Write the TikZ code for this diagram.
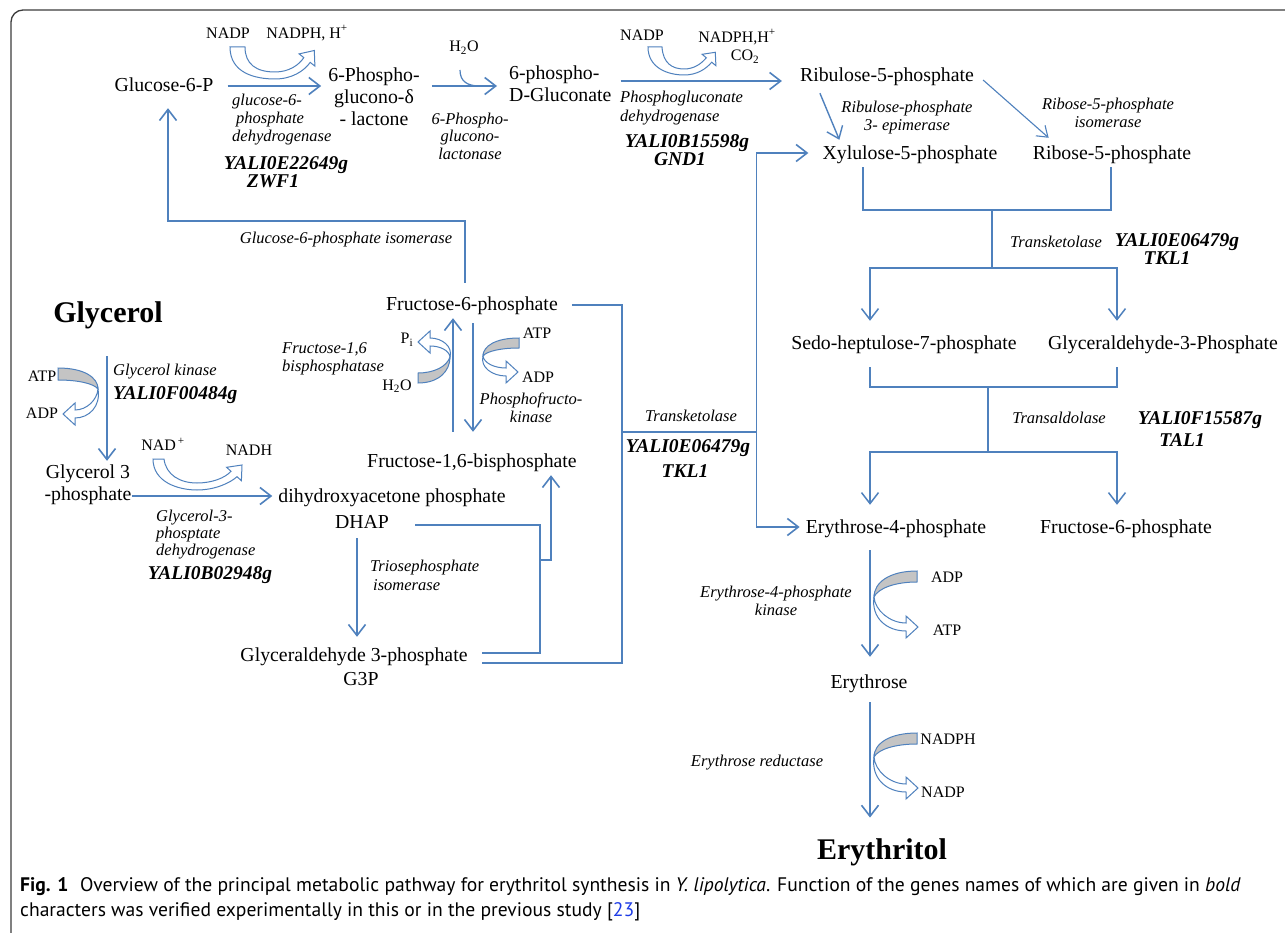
\documentclass[tikz,border=0pt]{standalone}
\usepackage{fontspec}
\setmainfont{Liberation Serif}
\newfontfamily\zzcapfam{PT Sans}
\usetikzlibrary{arrows.meta,calc}
\definecolor{lineblue}{RGB}{79,129,189}
\definecolor{bandgray}{RGB}{196,196,196}
\definecolor{framecol}{RGB}{60,60,60}
\definecolor{linkblue}{RGB}{30,60,230}
\newcommand\zzmain{\fontsize{19.8}{22}\selectfont}
\newcommand\zzenz{\fontsize{16.5}{18}\selectfont\itshape}
\newcommand\zzgene{\fontsize{19.5}{18}\selectfont\bfseries\itshape}
\newcommand\zzcof{\fontsize{16}{18}\selectfont}
\newcommand\zzbig{\fontsize{30}{32}\selectfont\bfseries}
\newcommand\zzcap{\fontsize{19.6}{24}\selectfont\zzcapfam}
% cofactor shape: #1 scope options, #2 gx, #3 g1 (outer), #4 g2 (inner), #5 tip x, #6 tip y
\newcommand\cofshape[6]{%
  \begin{scope}[#1]
    \filldraw[grayband] (0,0) .. controls (0,{#3*0.55}) and ({#2*0.35},#3) .. (#2,#3)
      -- (#2,#4) .. controls ({#2*0.5},#4) and ({#2*0.1},{#4*0.6}) .. (0,0) -- cycle;
    \pgfmathsetmacro\zzbx{#5+12}
    \filldraw[hollow] (0,0) .. controls (3,{#6*0.7}) and ({\zzbx*0.4},{#6+4}) .. (\zzbx,{#6+4})
      -- (\zzbx,{#6+11}) -- (#5,#6) -- (\zzbx,{#6-11}) -- (\zzbx,{#6-4})
      .. controls ({\zzbx*0.5},{#6-4}) and (-1,{#6*0.45}) .. (0,0) -- cycle;
  \end{scope}}
\begin{document}
\begin{tikzpicture}[x=1pt,y=-1pt,
  >={Straight Barb[length=11pt,width=17pt]},
  lbl/.style={inner sep=0pt, font=\zzmain, text height=13.5pt, text depth=4.5pt},
  lblm/.style={inner sep=0pt, font=\zzmain},
  big/.style={inner sep=0pt, font=\zzbig, text height=20pt, text depth=6.5pt},
  enz/.style={inner sep=0pt, font=\zzenz},
  gene/.style={inner sep=0pt, font=\zzgene, align=center},
  cof/.style={inner sep=0pt, font=\zzcof},
  arr/.style={draw=lineblue, line width=1.6pt, ->},
  barr/.style={draw=lineblue, line width=1.6pt, <->},
  tharr/.style={draw=lineblue, line width=1.1pt, -{Straight Barb[length=10pt,width=14pt]}},
  ln/.style={draw=lineblue, line width=1.5pt, line join=miter},
  grayband/.style={fill=bandgray, draw=lineblue, line width=1pt},
  hollow/.style={fill=white, draw=lineblue, line width=1pt, line join=miter},
]
\useasboundingbox (0,0) rectangle (1285,933);
\clip (0,0) rectangle (1285,933);
\fill[white] (0,0) rectangle (1285,933);
% frame
\draw[framecol, line width=1.3pt, rounded corners=12pt] (11,960) -- (11,10) -- (1310,10);

% ---------- main metabolites ----------
\node[lbl] (g6p) at (164,87) {Glucose-6-P};
\node[lblm, align=center] (pgl) at (374,97) {6-Phospho-\\glucono-δ\\- lactone};
\node[lblm, align=left, anchor=west] (pg) at (509,84) {6-phospho-\\D-Gluconate};
\node[lbl] (ru5p) at (887,77) {Ribulose-5-phosphate};
\node[lbl] (xu5p) at (910,155) {Xylulose-5-phosphate};
\node[lbl] (r5p) at (1112,155) {Ribose-5-phosphate};
\node[lbl] (s7p) at (904,345) {Sedo-heptulose-7-phosphate};
\node[lbl] (ga3p) at (1163,345) {Glyceraldehyde-3-Phosphate};
\node[lbl] (e4p) at (896,529) {Erythrose-4-phosphate};
\node[lbl] (f6p2) at (1126,529) {Fructose-6-phosphate};
\node[lbl] (ery) at (869,684) {Erythrose};
\node[big] (erol) at (882,853) {Erythritol};
\node[big] (gly) at (108,316) {Glycerol};
\node[lblm, align=center] (g3p1) at (88,485) {Glycerol 3\\-phosphate};
\node[lbl] (dhap) at (392,498) {dihydroxyacetone phosphate};
\node[lbl] (dhapab) at (362,524) {DHAP};
\node[lbl] (gap) at (354,657) {Glyceraldehyde 3-phosphate};
\node[lbl] (g3pab) at (361,681) {G3P};
\node[lbl] (f6p1) at (472,306) {Fructose-6-phosphate};
\node[lbl] (f16bp) at (472,463) {Fructose-1,6-bisphosphate};

% ---------- enzymes, genes, cofactors ----------
\node[enz, align=left, anchor=west] (e1) at (232,120) {glucose-6-\\\hspace*{4pt}phosphate\\dehydrogenase};
\node[gene] (gn1) at (286,172) {YALI0E22649g\\\hspace*{-26pt}ZWF1};
\node[cof] (nadp1) at (228,33) {NADP};
\node[cof] (nadph1) at (307,33) {NADPH, H\textsuperscript{+}};
\node[cof] (h2oA) at (464,48) {H\textsubscript{2}O};
\node[enz, align=center, font={\fontsize{16.5}{17.5}\selectfont\itshape}] (e2) at (470,136) {6-Phospho-\\glucono-\\lactonase};
\node[cof] (nadp2) at (642,35) {NADP};
\node[cof] (nadph2) at (737,37) {NADPH,H\textsuperscript{+}};
\node[cof] (co2) at (745,57) {CO\textsubscript{2}};
\node[enz, align=left, anchor=west, font={\fontsize{16.5}{19}\selectfont\itshape}] (e3) at (620,108) {Phosphogluconate\\dehydrogenase};
\node[gene] (gn3) at (687,150) {YALI0B15598g\\\hspace*{-14pt}GND1};
\node[enz, align=center] (e4) at (907,118) {Ribulose-phosphate\\3- epimerase};
\node[enz, align=center] (e5) at (1108,113) {Ribose-5-phosphate\\isomerase};
\node[enz] (e6) at (1056,242) {Transketolase};
\node[gene] (gn6) at (1177,249) {YALI0E06479g\\\hspace*{-20pt}TKL1};
\node[enz] (e7) at (1059,418) {Transaldolase};
\node[gene, font={\fontsize{19.5}{22}\selectfont\bfseries\itshape}] (gn7) at (1200,429) {YALI0F15587g\\\hspace*{-36pt}TAL1};
\node[enz, align=center] (e8) at (776,601) {Erythrose-4-phosphate\\kinase};
\node[cof] (adp3) at (947,577) {ADP};
\node[cof] (atp3) at (947,630) {ATP};
\node[enz] (e9) at (757,763) {Erythrose reductase};
\node[cof] (nadph4) at (948,739) {NADPH};
\node[cof] (nadp4) at (943,792) {NADP};
\node[enz, anchor=west] (e10) at (113,372) {Glycerol kinase};
\node[gene, anchor=west] (gn10) at (113,395) {YALI0F00484g};
\node[cof] (atp1) at (42,376) {ATP};
\node[cof] (adp1) at (42,413) {ADP};
\node[cof] (nad) at (163,444) {NAD\textsuperscript{\,+}};
\node[cof] (nadh) at (249,450) {NADH};
\node[enz, align=left, anchor=west, font={\fontsize{16.5}{17}\selectfont\itshape}] (e11) at (156,535) {Glycerol-3-\\phosptate\\dehydrogenase};
\node[gene] (gn11) at (210,575) {YALI0B02948g};
\node[enz, align=left, anchor=west, font={\fontsize{16.5}{19}\selectfont\itshape}] (e12) at (370,575) {Triosephosphate\\\hspace*{3pt}isomerase};
\node[enz, align=left, anchor=west] (e13) at (282,359) {Fructose-1,6\\bisphosphatase};
\node[enz, align=center] (e14) at (531,408) {Phosphofructo-\\kinase};
\node[cof] (pi) at (407,340) {P\textsubscript{i}};
\node[cof] (h2oB) at (397,386) {H\textsubscript{2}O};
\node[cof] (atp2) at (537,333) {ATP};
\node[cof] (adp2) at (538,377) {ADP};
\node[enz] (e15) at (346,240) {Glucose-6-phosphate isomerase};
\node[enz] (e16) at (691,416) {Transketolase};
\node[gene, font={\fontsize{19.5}{25}\selectfont\bfseries\itshape}] (gn16) at (688,459) {YALI0E06479g\\\hspace*{-6pt}TKL1};

% ---------- connectors ----------
\draw[arr] ($(g6p.east)+(14,-1)$) -- ($(g6p.east -| pgl.west)+(-7,-1)$);
\draw[arr] ($(pgl.east |- g6p.east)+(12,-1)$) -- ($(pg.west |- g6p.east)+(-12,-1)$);
\draw[arr] ($(pg.east |- ru5p.west)+(9,4)$) -- ($(ru5p.west)+(-18,4)$);
\draw[arr, line width=1.4pt] ($(ru5p.south west)+(20,7)$) -- ($(xu5p.north west)+(17,-6)$);
\draw[tharr] ($(ru5p.east)+(9,3)$) -- ($(r5p.north west)+(16,-8)$);
% upper transketolase bracket
\coordinate (b1l) at ($(xu5p.south)+(-47,3)$);
\coordinate (b1r) at ($(r5p.south)+(-1,3)$);
\coordinate (b1lb) at ($(b1l)+(0,43)$);
\coordinate (b1rb) at (b1lb -| b1r);
\draw[ln] (b1l) -- (b1lb) -- (b1rb) -- (b1r);
\coordinate (b1m) at ($(b1lb)!0.52!(b1rb)$);
\coordinate (b1n) at ($(b1m)+(0,58)$);
\coordinate (s7in) at ($(s7p.north)+(-34,-15)$);
\coordinate (ga3in) at ($(ga3p.north)+(-46,-15)$);
\draw[ln] (b1m) -- (b1n);
\draw[barr, line width=1.5pt] (s7in) -- (s7in |- b1n) -- (ga3in |- b1n) -- (ga3in);
% transaldolase bracket
\coordinate (b2l) at ($(s7p.south)+(-34,13)$);
\coordinate (b2r) at ($(ga3p.south)+(-46,13)$);
\coordinate (b2lb) at ($(b2l)+(0,20)$);
\coordinate (b2rb) at (b2lb -| b2r);
\draw[ln] (b2l) -- (b2lb) -- (b2rb) -- (b2r);
\coordinate (b2m) at ($(b2lb)!0.478!(b2rb)$);
\coordinate (b2n) at ($(b2m)+(0,65)$);
\coordinate (e4in) at ($(e4p.north)+(-26,-15)$);
\coordinate (f6in) at ($(f6p2.north)+(-9,-15)$);
\draw[ln] (b2m) -- (b2n);
\draw[barr, line width=1.5pt] (e4in) -- (e4in |- b2n) -- (f6in |- b2n) -- (f6in);
% erythrose branch
\draw[arr] ($(e4p.south)+(-26,12)$) -- ($(ery.north)+(1,-18)$);
\draw[arr] ($(ery.south)+(1,9)$) -- ($(erol.north)+(-12,-22)$);
% glycerol branch
\draw[arr] ($(gly.south)+(-1,27)$) -- ($(g3p1.north)+(19,-4)$);
\draw[arr] ($(g3p1.east |- dhap.west)+(0,-2)$) -- ($(dhap.west)+(-6,-2)$);
\draw[arr] ($(dhapab.south)+(-5,5)$) -- ($(gap.north)+(3,-11)$);
\coordinate (l1a) at ($(dhapab.east)+(26,1)$);
\coordinate (l1b) at ($(l1a)+(125,0)$);
\coordinate (l1d) at ($(gap.east)+(14,-4)$);
\coordinate (l1c) at (l1b |- l1d);
\draw[ln] (l1a) -- (l1b) -- (l1c) -- (l1d);
\coordinate (l1j) at ($(l1b)+(0,35)$);
\coordinate (f16in) at ($(f16bp.south)+(79,3)$);
\draw[arr, line join=miter] (l1j) -- (l1j -| f16in) -- (f16in);
% fructose-6-phosphate / G3P to transketolase
\coordinate (l2a) at ($(f6p1.east)+(14,-1)$);
\coordinate (l2b) at ($(l2a)+(50,0)$);
\coordinate (l2d) at ($(gap.east)+(14,6)$);
\coordinate (l2c) at (l2b |- l2d);
\draw[ln] (l2a) -- (l2b) -- (l2c) -- (l2d);
\coordinate (l2j) at ($(l2b)+(0,127)$);
\coordinate (xu5in) at ($(xu5p.west)+(-14,-2)$);
\coordinate (e4pin) at ($(e4p.west)+(-6,-2)$);
\coordinate (l3t) at ($(xu5in)+(-52,0)$);
\coordinate (l3b) at (l3t |- e4pin);
\draw[barr, line join=miter] (xu5in) -- (l3t) -- (l3b) -- (e4pin);
\draw[ln] (l2j) -- (l2j -| l3t);
% glucose-6-phosphate isomerase
\coordinate (f6up) at ($(f6p1.north)+(-7,-14)$);
\coordinate (isoR) at ($(f6p1.north)+(-7,-76)$);
\coordinate (g6pin) at ($(g6p.south)+(4,12)$);
\draw[arr, line join=miter] (f6up) -- (isoR) -- (isoR -| g6pin) -- (g6pin);
% F6P <-> F1,6BP
\draw[arr] ($(f16bp.north)+(-19,-22)$) -- ($(f6p1.south)+(-19,3)$);
\draw[arr] ($(f6p1.south)+(1,8)$) -- ($(f16bp.north)+(1,-22)$);

% ---------- cofactor arrows ----------
\filldraw[hollow] (230,47) .. controls (230,73) and (255,79) .. (275,79) .. controls (292,79) and (304,71) .. (310.2,62.4)
  -- (314.9,66.1) -- (314.3,50.5) -- (299.1,53.9) -- (303.8,57.6)
  .. controls (299,65) and (289,72) .. (275,72) .. controls (256,72) and (245,64) .. (245,47) -- cycle;
\filldraw[hollow] (648,47) .. controls (648,68) and (668,75) .. (684,75) .. controls (697,75) and (706,69) .. (711.7,62.2)
  -- (715.9,65.7) -- (715.3,52.3) -- (702.1,54.3) -- (706.3,57.8)
  .. controls (701,64) and (694,69) .. (684,69) .. controls (672,69) and (663,63) .. (662,47) -- cycle;
\filldraw[hollow] (153,459) .. controls (153,482) and (178,490) .. (197,490) .. controls (215,490) and (230,483) .. (237,476.7)
  -- (241.4,480.7) -- (242,465) -- (226.6,467.3) -- (231,471.3)
  .. controls (225,478) and (212,483) .. (197,483) .. controls (180,483) and (166,475) .. (164,459) -- cycle;
\draw[draw=lineblue, line width=1.2pt] (460,70) .. controls (460,82) and (468,86) .. (480,86);
\cofshape{shift={(98,389)}}{-40}{-21}{-9}{-35}{25}
\cofshape{shift={(450,357)},yscale=-1}{-32}{-26}{-16}{-32}{15}
\cofshape{shift={(483,356)},xscale=-1}{-36}{-18}{-8}{-35}{16}
\cofshape{shift={(874,597)},xscale=-1}{-43}{-26}{-15}{-44}{30}
\cofshape{shift={(874,757)},xscale=-1}{-43}{-24}{-13}{-44}{31}

% ---------- caption ----------
\node[anchor=west, inner sep=0pt, font=\zzcap] (cap1) at (20,887) {\textbf{Fig. 1}\hspace{0.6em}Overview of the principal metabolic pathway for erythritol synthesis in \textit{Y. lipolytica}. Function of the genes names of which are given in \textit{bold}};
\node[anchor=west, inner sep=0pt, font=\zzcap] (cap2) at (20,912) {characters was verified experimentally in this or in the previous study [\textcolor{linkblue}{23}]};
\end{tikzpicture}
\end{document}
